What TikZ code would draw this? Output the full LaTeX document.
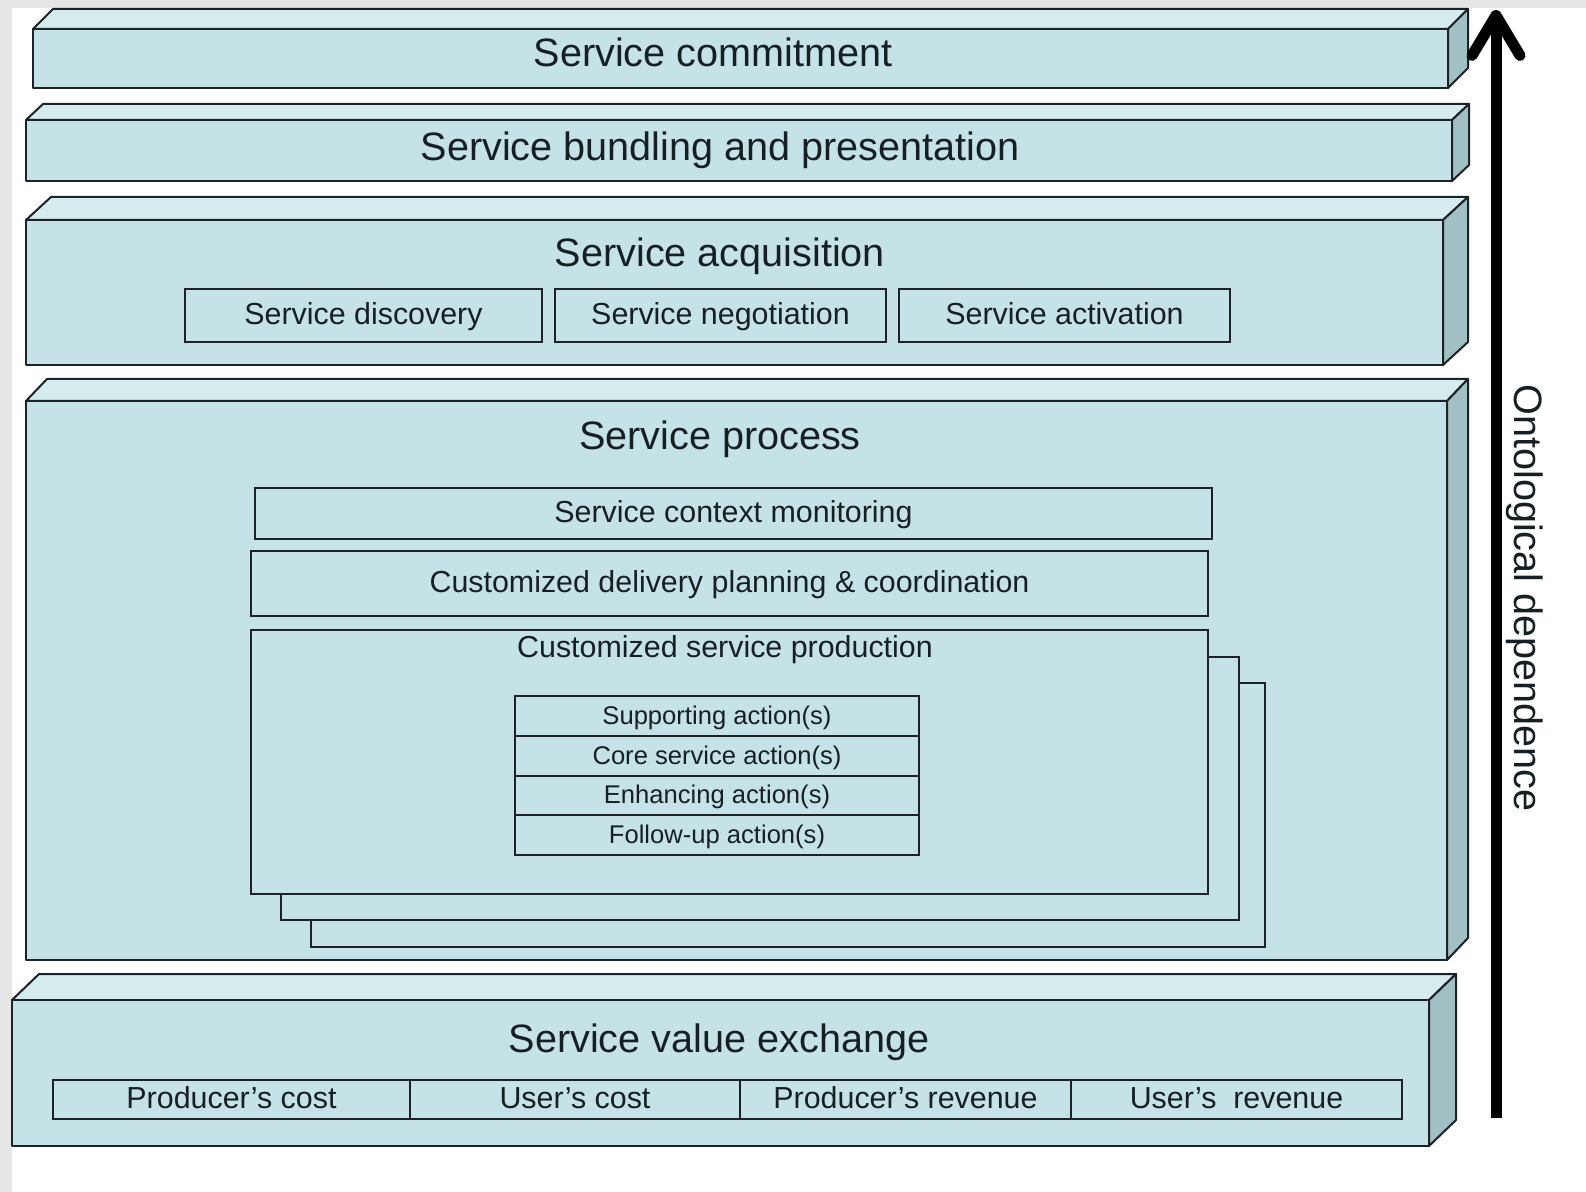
\documentclass[tikz,border=0pt]{standalone}
\usepackage{fontspec}
\setmainfont{Liberation Sans}
\usetikzlibrary{arrows.meta}

\definecolor{frontcol}{RGB}{197,227,230}
\definecolor{topcol}{RGB}{212,236,238}
\definecolor{sidecol}{RGB}{160,192,195}
\definecolor{linecol}{RGB}{28,34,38}
\definecolor{textcol}{RGB}{22,32,36}
\definecolor{stripcol}{RGB}{230,230,230}

\tikzset{
  face/.style={draw=linecol, line width=1pt, line join=round},
  cell/.style={draw=linecol, fill=frontcol, line width=1pt, inner sep=0pt, text=textcol},
  bigtext/.style={font=\fontsize{19.8}{24}\selectfont, text=textcol, inner sep=0pt},
  midtext/.style={font=\fontsize{15.2}{18}\selectfont, text height=11pt, text depth=1.8pt},
  smalltext/.style={font=\fontsize{12.8}{15}\selectfont, text height=9.6pt, text depth=1pt}
}

\begin{document}
\begin{tikzpicture}[x=0.5pt, y=-0.5pt]
    \useasboundingbox (0,0) rectangle (1586,1192);

    % Background
    \fill[white] (0,0) rectangle (1586,1192);
    \fill[stripcol] (0,0) rectangle (1586,8);
    \fill[stripcol] (0,0) rectangle (12,1192);

    % Layers (front face x1/y1/x2/y2, depth dx/dy)
    \foreach \xa/\ya/\xb/\yb/\dx/\dy in {33/29/1448/88/20/20, 26/120/1452/181/17/16,
        26/220/1443/365/25/23, 26/401/1447/960/21/22, 12/1000/1429/1146/27/26} {
        \draw[face, fill=topcol] (\xa,\ya) -- (\xa+\dx,\ya-\dy) -- (\xb+\dx,\ya-\dy) -- (\xb,\ya) -- cycle;
        \draw[face, fill=sidecol] (\xb,\ya) -- (\xb+\dx,\ya-\dy) -- (\xb+\dx,\yb-\dy) -- (\xb,\yb) -- cycle;
        \draw[face, fill=frontcol] (\xa,\ya) rectangle (\xb,\yb);
    }

    % Layer titles
    \node[bigtext, anchor=base] (commit) at (713,67) {Service commitment};
    \node[bigtext, anchor=base] (bundle) at (720,161) {Service bundling and presentation};
    \node[bigtext, anchor=base] (acq) at (720,267) {Service acquisition};
    \node[bigtext, anchor=base] (proc) at (720,450) {Service process};
    \node[bigtext, anchor=base] (value) at (719,1052) {Service value exchange};

    % Acquisition steps
    \node[cell, midtext, minimum width=178.5pt, minimum height=26.5pt] (disc) at (363.5,315.5) {Service discovery};
    \node[cell, midtext, minimum width=165.5pt, minimum height=26.5pt] (nego) at (720.5,315.5) {Service negotiation};
    \node[cell, midtext, minimum width=165.5pt, minimum height=26.5pt] (actv) at (1064.5,315.5) {Service activation};

    % Process parts
    \node[cell, midtext, minimum width=478.5pt, minimum height=25.5pt] (ctx) at (733.5,513.5) {Service context monitoring};
    \node[cell, midtext, minimum width=478.5pt, minimum height=32.5pt] (plan) at (729.5,583.5) {Customized delivery planning \& coordination};
    \node[cell, minimum width=477pt, minimum height=132pt] (prodc) at (788,815) {};
    \node[cell, minimum width=479pt, minimum height=131.5pt] (prodb) at (760,788.5) {};
    \node[cell, minimum width=478.5pt, minimum height=132pt] (proda) at (729.5,762) {};
    \node[font=\fontsize{15.2}{18}\selectfont, text=textcol, inner sep=0pt, anchor=base] (prodtitle) at (725,657) {Customized service production};

    % Actions
    \foreach \t [count=\i] in {Supporting action(s), Core service action(s), Enhancing action(s), Follow-up action(s)} {
        \node[cell, smalltext, minimum width=202pt, minimum height=19.875pt] (act\i) at (717, 676.125+39.75*\i) {\t};
    }

    % Value exchange parts
    \foreach \xc/\w/\t [count=\i] in {231.5/178.5/Producer’s cost, 575/165/User’s cost,
        905.5/165.5/Producer’s revenue, 1236.5/165.5/User’s~ revenue} {
        \node[cell, midtext, minimum width=\w pt, minimum height=19.5pt] (val\i) at (\xc,1099.5) {\t};
    }

    % Ontological dependence
    \coordinate (arrbot) at (1496,1118);
    \coordinate (arrtop) at (1496,10);
    \draw[line width=5.5pt, black, -{Straight Barb[length=20pt, width=24pt, round]}] (arrbot) -- (arrtop);
    \node[bigtext, rotate=-90] (onto) at (1525,598) {Ontological dependence};
\end{tikzpicture}
\end{document}
